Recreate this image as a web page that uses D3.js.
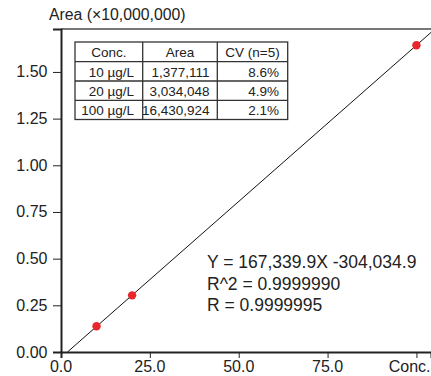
<!DOCTYPE html>
<html><head><meta charset="utf-8">
<script src="https://cdn.jsdelivr.net/npm/d3@7"></script>
<style>body{margin:0;background:#fff}svg{display:block;font-family:"Liberation Sans",Arial,sans-serif}</style>
</head><body><svg id="c" width="431" height="376"></svg>
<script>
const concs = [10, 20, 100];
const areas = [1377111, 3034048, 16430924];
const cvs = ["8.6%", "4.9%", "2.1%"];
const concLabels = ["10 µg/L", "20 µg/L", "100 µg/L"];
const areaLabels = ["1,377,111", "3,034,048", "16,430,924"];
const tableHeader = ["Conc.", "Area", "CV (n=5)"];
const slope = 167339.9, intercept = -304034.9;
const eqLines = ["Y = 167,339.9X -304,034.9", "R^2 = 0.9999990", "R = 0.9999995"];
const xTicks = [0, 25, 50, 75, 100];
const xTickLabels = ["0.0", "25.0", "50.0", "75.0", "Conc."];
const yTicks = [0, 0.25, 0.5, 0.75, 1.0, 1.25, 1.5];
const yTickLabels = ["0.00", "0.25", "0.50", "0.75", "1.00", "1.25", "1.50"];
const yScaleFactor = 1e7;

const svg = d3.select("#c");
const x = d3.scaleLinear().domain([0, 104.1]).range([61, 431]);
const y = d3.scaleLinear().domain([0, 1.73]).range([352, 29]);

// top border
svg.append("line").attr("x1", 61).attr("x2", 431).attr("y1", 29).attr("y2", 29)
  .attr("stroke", "#777").attr("stroke-width", 2);

// minor ticks
const gx = svg.append("g").attr("transform", "translate(0,352)");
gx.call(d3.axisBottom(x).tickValues(d3.range(0, 104, 5)).tickSize(3).tickFormat(""))
  .call(g => g.select(".domain").remove());
gx.call(d3.axisBottom(x).tickValues(xTicks).tickSize(6).tickFormat(""));
gx.selectAll(".tick line").attr("stroke", "#222");
gx.select(".domain").attr("stroke", "#222").attr("stroke-width", 2);

const gy = svg.append("g").attr("transform", "translate(61,0)");
gy.call(d3.axisLeft(y).tickValues(d3.range(0, 1.74, 0.05)).tickSize(4).tickFormat(""))
  .call(g => g.select(".domain").remove());
gy.call(d3.axisLeft(y).tickValues(yTicks).tickSize(8).tickFormat(""));
gy.selectAll(".tick line").attr("stroke", "#222");
gy.select(".domain").attr("stroke", "#222").attr("stroke-width", 2);

// tick labels
svg.append("g").selectAll("text").data(xTicks).join("text")
  .attr("x", (d, i) => i === xTicks.length - 1 ? 430.5 : x(d)).attr("y", 372)
  .attr("text-anchor", (d, i) => i === xTicks.length - 1 ? "end" : "middle")
  .attr("font-size", 16).attr("fill", "#222").text((d, i) => xTickLabels[i]);
svg.append("g").selectAll("text").data(yTicks).join("text")
  .attr("x", 47.5).attr("y", d => y(d) + 5.5).attr("text-anchor", "end")
  .attr("font-size", 16).attr("fill", "#222").text((d, i) => yTickLabels[i]);

svg.append("text").attr("x", 49).attr("y", 20).attr("font-size", 15.8).attr("fill", "#222")
  .text("Area (\u00d710,000,000)");

// regression line
const xs = [-intercept / slope, 104.1];
svg.append("line")
  .attr("x1", x(xs[0])).attr("y1", y((slope * xs[0] + intercept) / yScaleFactor))
  .attr("x2", x(xs[1])).attr("y2", y((slope * xs[1] + intercept) / yScaleFactor))
  .attr("stroke", "#111").attr("stroke-width", 1);

// points
svg.append("g").selectAll("circle").data(concs).join("circle")
  .attr("cx", d => x(d)).attr("cy", (d, i) => y(areas[i] / yScaleFactor))
  .attr("r", 4.2).attr("fill", "#e8282c");

// equation
svg.append("g").selectAll("text").data(eqLines).join("text")
  .attr("x", 207).attr("y", (d, i) => 268 + i * 21.5)
  .attr("font-size", 17.5).attr("fill", "#222").text(d => d);

// table
const colX = [75, 142.7, 217.3, 287.7];
const rowY = [42, 61.7, 81, 100.3, 119.5];
const tg = svg.append("g");
tg.append("rect").attr("x", colX[0]).attr("y", rowY[0]).attr("width", colX[3] - colX[0])
  .attr("height", rowY[4] - rowY[0]).attr("fill", "#fff").attr("stroke", "#333").attr("stroke-width", 1.3);
colX.slice(1, 3).forEach(cx => tg.append("line").attr("x1", cx).attr("x2", cx)
  .attr("y1", rowY[0]).attr("y2", rowY[4]).attr("stroke", "#333").attr("stroke-width", 1.3));
rowY.slice(1, 4).forEach(ry => tg.append("line").attr("x1", colX[0]).attr("x2", colX[3])
  .attr("y1", ry).attr("y2", ry).attr("stroke", "#333").attr("stroke-width", 1.3));
tableHeader.forEach((t, i) => tg.append("text").attr("x", (colX[i] + colX[i + 1]) / 2)
  .attr("y", rowY[0] + 15).attr("text-anchor", "middle").attr("font-size", 13.5)
  .attr("fill", "#222").text(t));
const rows = concs.map((c, i) => [concLabels[i], areaLabels[i], cvs[i]]);
const rightEdge = [134, 209.5, 279];
rows.forEach((r, ri) => r.forEach((t, ci) => tg.append("text")
  .attr("x", rightEdge[ci]).attr("y", rowY[ri + 1] + 15).attr("text-anchor", "end")
  .attr("font-size", 13.5).attr("fill", "#222").text(t)));
</script></body></html>
